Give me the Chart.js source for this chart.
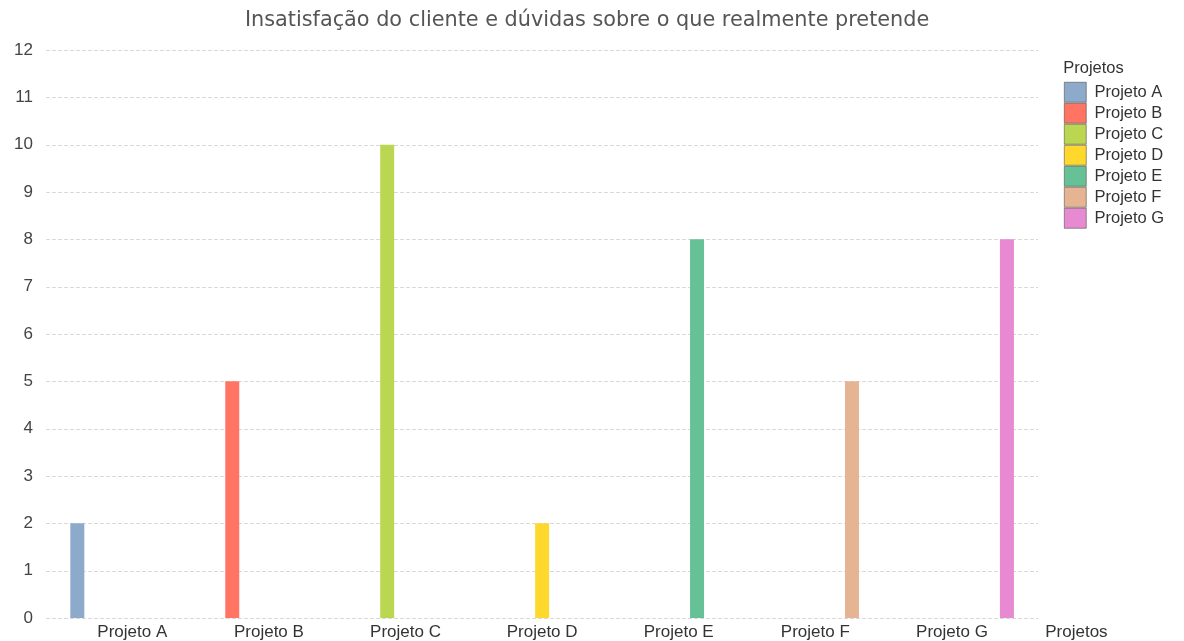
<!DOCTYPE html>
<html>
<head>
<meta charset="utf-8">
<script src="https://cdn.jsdelivr.net/npm/chart.js@4/dist/chart.umd.min.js"></script>
<style>
  html, body { margin: 0; padding: 0; background: #fff; overflow: hidden; }
  canvas { display: block; }
</style>
</head>
<body>
<canvas id="chart" width="1184" height="641"></canvas>
<script>
const categories = ['Projeto A', 'Projeto B', 'Projeto C', 'Projeto D', 'Projeto E', 'Projeto F', 'Projeto G'];
const values = [2, 5, 10, 2, 8, 5, 8];
const colors = ['#8eaacb', '#ff7463', '#bbd651', '#ffd82e', '#66c296', '#e5b593', '#e78ad1'];
const yTicks = [0, 1, 2, 3, 4, 5, 6, 7, 8, 9, 10, 11, 12];

const FONT = "'Liberation Sans', Arial, sans-serif";

// one dataset per project, value only in its own category
const datasets = categories.map((name, i) => ({
    label: name,
    data: categories.map((c, j) => (j === i ? values[i] : null)),
    backgroundColor: colors[i],
    borderWidth: 0
}));

// dashed horizontal grid that runs a bit past the plot on both sides, plus the x axis title
const extras = {
    id: 'extras',
    beforeDatasetsDraw(chart) {
        const { ctx, chartArea, scales } = chart;
        ctx.save();
        ctx.strokeStyle = '#d9d9d9';
        ctx.lineWidth = 1;
        ctx.setLineDash([4, 2]);
        yTicks.forEach(v => {
            const y = Math.round(scales.y.getPixelForValue(v)) + 0.5;
            ctx.beginPath();
            ctx.moveTo(chartArea.left - 18, y);
            ctx.lineTo(chartArea.right + 18, y);
            ctx.stroke();
        });
        ctx.restore();
    },
    afterDraw(chart) {
        const { ctx, chartArea } = chart;
        ctx.save();
        ctx.font = '17px ' + FONT;
        ctx.fillStyle = '#333';
        ctx.textBaseline = 'middle';
        ctx.fillText('Projetos', chartArea.right + 25, chartArea.bottom + 14);
        ctx.restore();
    }
};

new Chart(document.getElementById('chart'), {
    type: 'bar',
    data: { labels: categories, datasets: datasets },
    plugins: [extras],
    options: {
        responsive: false,
        animation: false,
        categoryPercentage: 0.939,
        barPercentage: 0.764,
        layout: { padding: { top: 0, right: 9.8, bottom: 0, left: 0 } },
        scales: {
            x: {
                grid: { display: false, drawTicks: false },
                border: { display: false },
                ticks: { color: '#333', font: { family: FONT, size: 17 }, padding: 4 },
                afterFit(s) { s.height = 23; }
            },
            y: {
                min: 0,
                max: 12,
                grid: { display: false, drawTicks: false },
                border: { display: false },
                ticks: {
                    stepSize: 1,
                    color: '#444',
                    padding: 31,
                    font: { family: FONT, size: 17 }
                },
                afterFit(s) {
                    s.width = 64;
                    // tick padding is horizontal here, don't let it pad the plot vertically
                    s.paddingTop = 10;
                    s.paddingBottom = 10;
                }
            },
            yR: {
                type: 'linear',
                position: 'right',
                grid: { display: false, drawTicks: false },
                border: { display: false },
                ticks: { display: false },
                afterFit(s) { s.width = 43; }
            }
        },
        plugins: {
            title: {
                display: true,
                text: 'Insatisfação do cliente e dúvidas sobre o que realmente pretende',
                color: '#555',
                font: { family: "'DejaVu Sans', Verdana, sans-serif", size: 20.8, weight: 'normal' },
                padding: { top: 8, bottom: 17 }
            },
            legend: {
                position: 'right',
                align: 'start',
                fullSize: false,
                title: {
                    display: true,
                    text: 'Projetos',
                    position: 'start',
                    color: '#333',
                    font: { family: FONT, size: 16.5 },
                    padding: { top: 10, bottom: 1.5 }
                },
                labels: {
                    boxWidth: 22,
                    boxHeight: 20,
                    padding: 1,
                    color: '#333',
                    font: { family: FONT, size: 16.5 },
                    generateLabels(chart) {
                        const items = Chart.defaults.plugins.legend.labels.generateLabels(chart);
                        items.forEach(it => {
                            it.strokeStyle = 'rgba(70,70,70,0.55)';
                            it.lineWidth = 1;
                        });
                        return items;
                    }
                }
            },
            tooltip: { enabled: false }
        }
    }
});
</script>
</body>
</html>
